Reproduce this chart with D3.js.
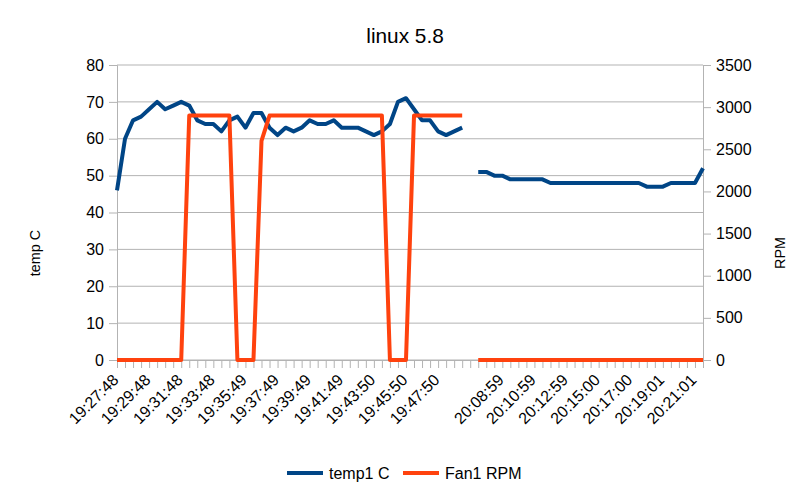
<!DOCTYPE html>
<html>
<head>
<meta charset="utf-8">
<script src="https://cdn.jsdelivr.net/npm/d3@7"></script>
<style>
  body { margin: 0; background: #fff; }
  svg { font-family: "Liberation Sans", Arial, sans-serif; }
</style>
</head>
<body>
<svg id="svg" width="809" height="487"></svg>
<script>
// sample times (empty entry = gap between the two sessions)
let times = [
  "19:27:48", "19:28:18", "19:28:48", "19:29:18", "19:29:48", "19:30:18", "19:30:48", "19:31:18",
  "19:31:48", "19:32:18", "19:32:48", "19:33:18", "19:33:48", "19:34:18", "19:34:48", "19:35:19",
  "19:35:49", "19:36:19", "19:36:49", "19:37:19", "19:37:49", "19:38:19", "19:38:49", "19:39:19",
  "19:39:49", "19:40:19", "19:40:49", "19:41:19", "19:41:49", "19:42:19", "19:42:50", "19:43:20",
  "19:43:50", "19:44:20", "19:44:50", "19:45:20", "19:45:50", "19:46:20", "19:46:50", "19:47:20",
  "19:47:50", "19:48:20", "19:48:50", "19:49:20", "",
  "20:07:29", "20:07:59", "20:08:29",
  "20:08:59", "20:09:29", "20:09:59", "20:10:29", "20:10:59", "20:11:29", "20:11:59", "20:12:29",
  "20:12:59", "20:13:29", "20:13:59", "20:14:30", "20:15:00", "20:15:30", "20:16:00", "20:16:30",
  "20:17:00", "20:17:30", "20:18:00", "20:18:31", "20:19:01", "20:19:31", "20:20:01", "20:20:31",
  "20:21:01", "20:21:31"
];

let temp1 = [
  46, 60, 65, 66, 68, 70, 68, 69, 70, 69, 65, 64, 64, 62, 65, 66,
  63, 67, 67, 63, 61, 63, 62, 63, 65, 64, 64, 65, 63, 63, 63, 62,
  61, 62, 64, 70, 71, 68, 65, 65, 62, 61, 62, 63, null,
  51, 51, 50, 50, 49, 49, 49, 49, 49, 48, 48, 48, 48, 48, 48, 48,
  48, 48, 48, 48, 48, 47, 47, 47, 48, 48, 48, 48, 52
];

let fan1 = [
  0, 0, 0, 0, 0, 0, 0, 0, 0, 2900, 2900, 2900, 2900, 2900, 2900, 0,
  0, 0, 2600, 2900, 2900, 2900, 2900, 2900, 2900, 2900, 2900, 2900, 2900, 2900, 2900, 2900,
  2900, 2900, 0, 0, 0, 2900, 2900, 2900, 2900, 2900, 2900, 2900, null,
  0, 0, 0, 0, 0, 0, 0, 0, 0, 0, 0, 0, 0, 0, 0, 0,
  0, 0, 0, 0, 0, 0, 0, 0, 0, 0, 0, 0, 0
];

let tempTicks = [0, 10, 20, 30, 40, 50, 60, 70, 80];
let rpmTicks = [0, 500, 1000, 1500, 2000, 2500, 3000, 3500];

let svg = d3.select("#svg");
let plotL = 117, plotR = 703, plotT = 65, plotB = 360;
let grid = "#b3b3b3";

let x = d3.scaleLinear().domain([0, times.length - 1]).range([plotL, plotR]);
let yT = d3.scaleLinear().domain([0, 80]).range([plotB, plotT]);
let yR = d3.scaleLinear().domain([0, 3500]).range([plotB, plotT]);

/* Title */
svg.append("text")
  .attr("x", 405)
  .attr("y", 43)
  .attr("text-anchor", "middle")
  .attr("font-size", 20.8)
  .text("linux 5.8");

/* Gridlines */
svg.append("g")
  .selectAll("line")
  .data(tempTicks)
  .join("line")
  .attr("x1", plotL)
  .attr("x2", plotR)
  .attr("y1", d => yT(d))
  .attr("y2", d => yT(d))
  .attr("stroke", grid);

/* Left axis */
let gl = svg.append("g")
  .attr("transform", `translate(${plotL},0)`)
  .call(d3.axisLeft(yT).tickValues(tempTicks).tickSize(8).tickPadding(5));
gl.selectAll("text").attr("font-size", 16).attr("fill", "#000");

/* Right axis */
let gr = svg.append("g")
  .attr("transform", `translate(${plotR},0)`)
  .call(d3.axisRight(yR).tickValues(rpmTicks).tickFormat(d3.format("d")).tickSize(8).tickPadding(5));
gr.selectAll("text").attr("font-size", 16).attr("fill", "#000");

/* Bottom axis */
let gb = svg.append("g")
  .attr("transform", `translate(0,${plotB})`)
  .call(d3.axisBottom(x)
    .tickValues(d3.range(times.length))
    .tickFormat(i => i % 4 === 0 ? times[i] : "")
    .tickSize(8));
gb.selectAll("text")
  .attr("font-size", 16)
  .attr("fill", "#000")
  .attr("text-anchor", "end")
  .attr("x", 0)
  .attr("y", 0)
  .attr("dy", "0.35em")
  .attr("transform", "translate(-2,17) rotate(-45)");

[gl, gr, gb].forEach(g => {
  g.select(".domain").attr("stroke", grid);
  g.selectAll(".tick line").attr("stroke", grid);
});

/* Axis titles */
svg.append("text")
  .attr("transform", "translate(40,253) rotate(-90)")
  .attr("text-anchor", "middle")
  .attr("font-size", 14.4)
  .text("temp C");

svg.append("text")
  .attr("transform", "translate(785,253) rotate(-90)")
  .attr("text-anchor", "middle")
  .attr("font-size", 14.4)
  .text("RPM");

/* Lines */
let tempLine = d3.line()
  .defined(d => d != null)
  .x((d, i) => x(i))
  .y(d => yT(d));

let fanLine = d3.line()
  .defined(d => d != null)
  .x((d, i) => x(i))
  .y(d => yR(d));

svg.append("path")
  .attr("d", tempLine(temp1))
  .attr("fill", "none")
  .attr("stroke", "#004586")
  .attr("stroke-width", 4)
  .attr("stroke-linejoin", "round");

svg.append("path")
  .attr("d", fanLine(fan1))
  .attr("fill", "none")
  .attr("stroke", "#ff420e")
  .attr("stroke-width", 4)
  .attr("stroke-linejoin", "round");

/* Legend */
let legend = [
  {name: "temp1 C", color: "#004586", x: 287},
  {name: "Fan1 RPM", color: "#ff420e", x: 403}
];
legend.forEach(d => {
  svg.append("line")
    .attr("x1", d.x)
    .attr("x2", d.x + 36)
    .attr("y1", 473)
    .attr("y2", 473)
    .attr("stroke", d.color)
    .attr("stroke-width", 4);
  svg.append("text")
    .attr("x", d.x + 42)
    .attr("y", 479)
    .attr("font-size", 16)
    .text(d.name);
});
</script>
</body>
</html>
